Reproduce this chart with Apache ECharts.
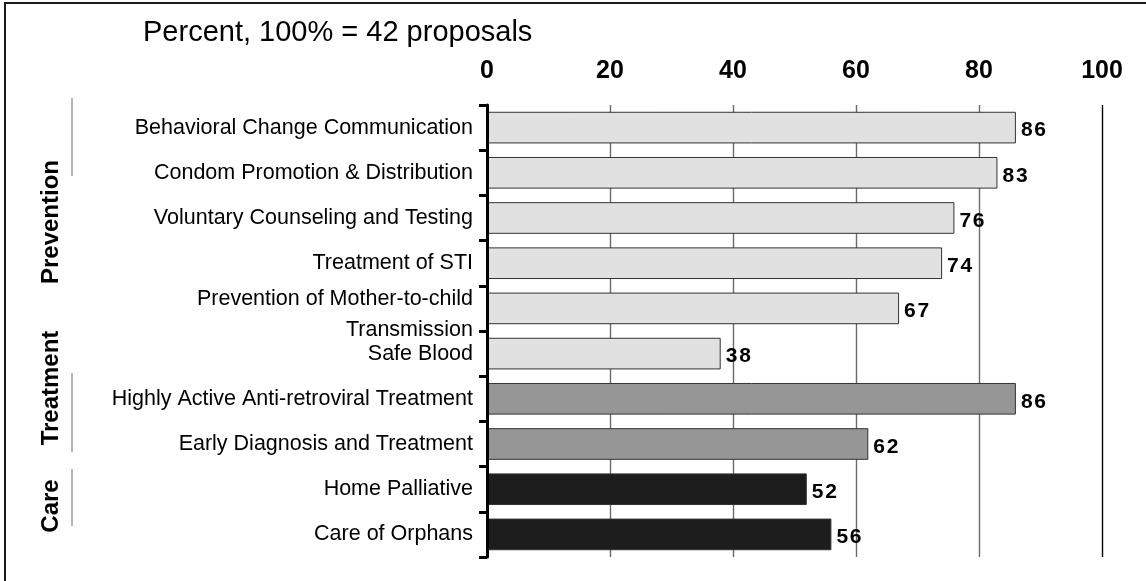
<!DOCTYPE html>
<html>
<head>
<meta charset="utf-8">
<title>HIV/AIDS proposal components</title>
<script src="https://cdn.jsdelivr.net/npm/echarts@6/dist/echarts.min.js"></script>
<style>
  html, body { margin: 0; padding: 0; background: #fff; }
  #chart { width: 1146px; height: 581px; }
</style>
</head>
<body>
<div id="chart"></div>
<script>
// Share of proposals that include each intervention (percent of 42 proposals)
const categories = [
  'Behavioral Change Communication',
  'Condom Promotion & Distribution',
  'Voluntary Counseling and Testing',
  'Treatment of STI',
  'Prevention of Mother-to-child\nTransmission',
  'Safe Blood',
  'Highly Active Anti-retroviral Treatment',
  'Early Diagnosis and Treatment',
  'Home Palliative',
  'Care of Orphans'
];
const values = [86, 83, 76, 74, 67, 38, 86, 62, 52, 56];
const groups = [
  'Prevention', 'Prevention', 'Prevention', 'Prevention', 'Prevention', 'Prevention',
  'Treatment', 'Treatment',
  'Care', 'Care'
];
const xTicks = [0, 20, 40, 60, 80, 100];
const titleText = 'Percent, 100% = 42 proposals';

// Styling
const FONT = '"Liberation Sans", Arial, Helvetica, sans-serif';
const groupColors = { Prevention: '#e1e1e1', Treatment: '#969696', Care: '#1d1d1d' };

// Group captions down the left side with their bracket lines
const groupMarks = [
  { name: 'Prevention', cy: 222, lineTop: 98,  lineBottom: 176 },
  { name: 'Treatment',  cy: 388, lineTop: 373, lineBottom: 452 },
  { name: 'Care',       cy: 506, lineTop: 469, lineBottom: 526 }
];

const chart = echarts.init(document.getElementById('chart'), null, { renderer: 'canvas' });

const barData = values.map(function (v, i) {
  return { value: v, itemStyle: { color: groupColors[groups[i]] } };
});

// Two-line category names sit a little lower than single-line ones
function categoryLabel(name) {
  const parts = name.split('\n');
  if (parts.length === 1) return name;
  return parts.map(function (p) { return '{low|' + p + '}'; }).join('\n');
}

// Value labels are set with a little tracking between the digits
function valueLabel(p) {
  return String(p.value).split('').join('\u200A');
}

const graphics = [
  {
    type: 'rect', silent: true, z: 10,
    shape: { x: 5, y: 3, width: 1400, height: 800 },
    style: { fill: null, stroke: '#1a1a1a', lineWidth: 2 }
  },
  {
    type: 'text', silent: true, left: 143, top: 18,
    style: { text: titleText, font: '29px ' + FONT, fill: '#000' }
  }
];
groupMarks.forEach(function (g) {
  graphics.push({
    type: 'text', silent: true,
    x: 51, y: g.cy, rotation: Math.PI / 2,
    style: {
      text: g.name, font: 'bold 24px ' + FONT, fill: '#000',
      align: 'center', verticalAlign: 'middle'
    }
  });
  graphics.push({
    type: 'line', silent: true,
    shape: { x1: 72, y1: g.lineTop, x2: 72, y2: g.lineBottom },
    style: { stroke: '#6a6a6a', lineWidth: 1 }
  });
});

chart.setOption({
  animation: false,
  backgroundColor: '#fff',
  textStyle: { fontFamily: FONT },
  grid: { left: 487, right: 44, top: 105, bottom: 24, containLabel: false },
  xAxis: {
    type: 'value',
    position: 'top',
    min: xTicks[0],
    max: xTicks[xTicks.length - 1],
    interval: xTicks[1] - xTicks[0],
    axisLine: { show: false },
    axisTick: { show: false },
    axisLabel: {
      margin: 21,
      fontSize: 25,
      fontWeight: 'bold',
      color: '#000',
      fontFamily: FONT
    },
    splitLine: {
      show: true,
      lineStyle: {
        color: ['#000', '#6a6a6a', '#6a6a6a', '#6a6a6a', '#6a6a6a', '#000'],
        width: 1.4
      }
    }
  },
  yAxis: {
    type: 'category',
    inverse: true,
    data: categories,
    z: 5,
    axisLine: { show: true, lineStyle: { color: '#000', width: 3 } },
    axisTick: { show: true, length: 8, lineStyle: { color: '#000', width: 3 } },
    axisLabel: {
      margin: 14,
      fontSize: 21.5,
      color: '#000',
      fontFamily: FONT,
      formatter: categoryLabel,
      rich: {
        low: { fontSize: 21.5, fontFamily: FONT, color: '#000', lineHeight: 31, padding: [13, 0, 0, 0] }
      }
    },
    splitLine: { show: false }
  },
  series: [{
    type: 'bar',
    data: barData,
    barCategoryGap: '30%',
    itemStyle: { borderColor: '#333', borderWidth: 1 },
    label: {
      show: true,
      position: 'right',
      distance: 5,
      fontSize: 21,
      fontWeight: 'bold',
      color: '#000',
      fontFamily: FONT,
      offset: [0, 3],
      formatter: valueLabel
    }
  }],
  graphic: graphics
});
</script>
</body>
</html>
